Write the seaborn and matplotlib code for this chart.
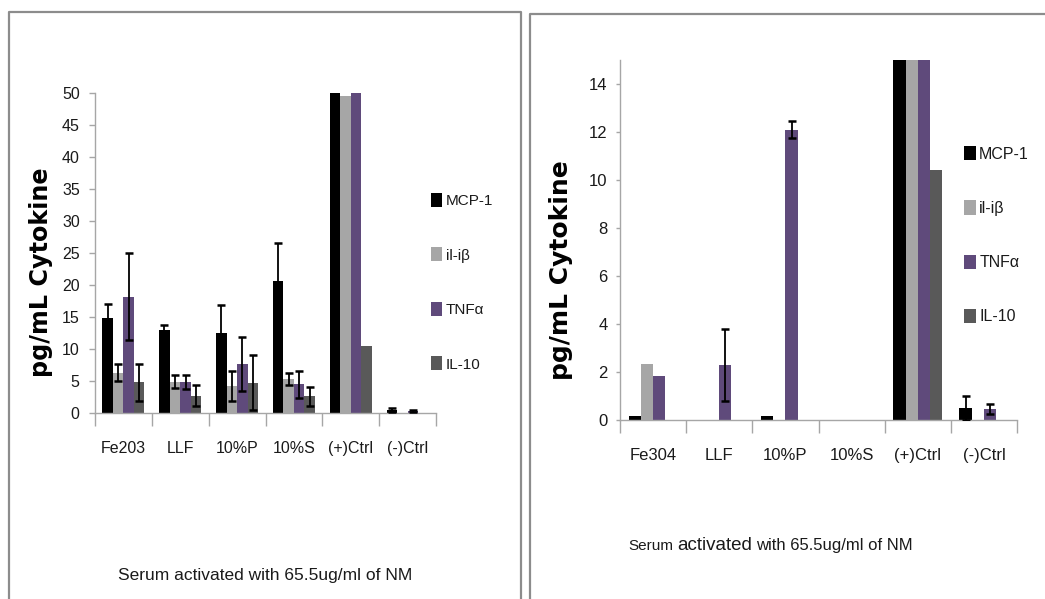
import numpy as np
import pandas as pd
import matplotlib
matplotlib.use("Agg")
import matplotlib.pyplot as plt
from matplotlib.patches import Patch
from matplotlib.lines import Line2D
import seaborn as sns

# ---- data -------------------------------------------------------------
cytokines = ["MCP-1", "il-iβ", "TNFα", "IL-10"]
colors = ["#000000", "#a6a6a6", "#5f4a7b", "#595959"]

samples_a = ["Fe203", "LLF", "10%P", "10%S", "(+)Ctrl", "(-)Ctrl"]
a_mcp1 = [14.8, 12.9, 12.5, 20.7, 50.0, 0.5]
a_il1b = [6.3, 4.9, 4.2, 5.3, 49.5, 0.0]
a_tnfa = [18.2, 4.9, 7.7, 4.5, 50.0, 0.3]
a_il10 = [4.8, 2.7, 4.7, 2.6, 10.4, 0.0]
a_mcp1_err = [2.3, 0.8, 4.3, 5.8, 0.0, 0.35]
a_il1b_err = [1.3, 1.0, 2.3, 1.0, 0.0, 0.0]
a_tnfa_err = [6.8, 1.1, 4.2, 2.1, 0.0, 0.1]
a_il10_err = [2.9, 1.6, 4.3, 1.5, 0.0, 0.0]

samples_b = ["Fe304", "LLF", "10%P", "10%S", "(+)Ctrl", "(-)Ctrl"]
b_mcp1 = [0.17, 0.0, 0.17, 0.0, 15.0, 0.5]
b_il1b = [2.35, 0.0, 0.0, 0.0, 15.0, 0.0]
b_tnfa = [1.85, 2.3, 12.1, 0.0, 15.0, 0.45]
b_il10 = [0.0, 0.0, 0.0, 0.0, 10.4, 0.0]
b_mcp1_err = [0.0, 0.0, 0.0, 0.0, 0.0, 0.48]
b_il1b_err = [0.0, 0.0, 0.0, 0.0, 0.0, 0.0]
b_tnfa_err = [0.0, 1.5, 0.37, 0.0, 0.0, 0.2]
b_il10_err = [0.0, 0.0, 0.0, 0.0, 0.0, 0.0]

y_label = "pg/mL Cytokine"
x_title = "Serum activated with 65.5ug/ml of NM"
x_title_parts = ["Serum", "activated", "with 65.5ug/ml of NM"]

# ---- style ------------------------------------------------------------
sns.set_theme(style="white")
plt.rcParams["font.family"] = ["Liberation Sans", "DejaVu Sans"]
TEXT = "#1a1a1a"

W, H = 1045, 599
fig = plt.figure(figsize=(W / 100, H / 100), dpi=100)
fig.patch.set_facecolor("white")


def px_axes(x0, y0, x1, y1):
    return fig.add_axes([x0 / W, 1 - y1 / H, (x1 - x0) / W, (y1 - y0) / H])


def frame_line(xs, ys):
    fig.add_artist(Line2D([x / W for x in xs], [1 - y / H for y in ys],
                          color="#8c8c8c", lw=1.6, transform=fig.transFigure))


def panel(ax, samples, series, errors, ymax, yticks, tick_fs, leg_xy, leg_fs,
          leg_spacing, ytick_len, ytick_pad):
    df = pd.DataFrame({
        "sample": np.tile(samples, len(cytokines)),
        "cytokine": np.repeat(cytokines, len(samples)),
        "value": np.concatenate(series),
    })
    sns.barplot(data=df, x="sample", y="value", hue="cytokine",
                order=samples, hue_order=cytokines, palette=colors,
                saturation=1, width=0.74, errorbar=None, legend=False, ax=ax)
    for cont, errs in zip(ax.containers, errors):
        for bar, e in zip(cont, errs):
            bar.set_edgecolor("none")
            if e > 0:
                ax.errorbar(bar.get_x() + bar.get_width() / 2, bar.get_height(),
                            yerr=e, fmt="none", ecolor="black", elinewidth=1.3,
                            capsize=3.0, capthick=1.8, zorder=5)
    ax.set_xlim(-0.5, len(samples) - 0.5)
    ax.set_ylim(0, ymax)
    ax.set_yticks(yticks)
    ax.set_xticks(range(len(samples)))
    ax.set_xticklabels(samples)
    ax.set_xticks(np.arange(-0.5, len(samples), 1.0), minor=True)
    ax.set_xlabel("")
    ax.set_ylabel("")
    for s in ("top", "right"):
        ax.spines[s].set_visible(False)
    for s in ("left", "bottom"):
        ax.spines[s].set_color("#a6a6a6")
        ax.spines[s].set_linewidth(1.0)
    ax.tick_params(axis="x", which="major", bottom=True, length=0, pad=20,
                   labelsize=tick_fs, colors=TEXT)
    ax.tick_params(axis="x", which="minor", bottom=True, length=9,
                   width=1.0, color="#a6a6a6")
    ax.tick_params(axis="y", left=True, length=ytick_len, width=1.0,
                   color="#a6a6a6", pad=ytick_pad, labelsize=tick_fs,
                   labelcolor=TEXT)
    handles = [Patch(facecolor=c, edgecolor="none") for c in colors]
    leg = ax.legend(handles, cytokines, loc="upper left",
                    bbox_to_anchor=(leg_xy[0] / W, 1 - leg_xy[1] / H),
                    bbox_transform=fig.transFigure, frameon=False,
                    handlelength=0.75, handleheight=1.0, handletextpad=0.2,
                    labelspacing=leg_spacing, fontsize=leg_fs,
                    borderaxespad=0, borderpad=0)
    for t in leg.get_texts():
        t.set_color(TEXT)


# ---- left panel -------------------------------------------------------
frame_line([9, 9, 521, 521], [602, 12, 12, 602])
ax1 = px_axes(95, 93, 436, 413)
panel(ax1, samples_a, [a_mcp1, a_il1b, a_tnfa, a_il10],
      [a_mcp1_err, a_il1b_err, a_tnfa_err, a_il10_err],
      50, np.arange(0, 51, 5), 11.5, (431, 193), 11, 2.58, 4, 7)
fig.text(41 / W, 1 - 272 / H, y_label, rotation=90, ha="center", va="center",
         family="DejaVu Sans", fontweight="bold", fontsize=17.2, color="#000000")
fig.text(265 / W, 1 - 580 / H, x_title, ha="center", va="baseline",
         fontsize=12.5, color=TEXT)

# ---- right panel ------------------------------------------------------
frame_line([530, 530, 1050], [602, 14, 14])
ax2 = px_axes(620, 60, 1017, 420)
panel(ax2, samples_b, [b_mcp1, b_il1b, b_tnfa, b_il10],
      [b_mcp1_err, b_il1b_err, b_tnfa_err, b_il10_err],
      15, np.arange(0, 15, 2), 12, (964, 146), 11.5, 2.42, 3, 6)
fig.text(561 / W, 1 - 270 / H, y_label, rotation=90, ha="center", va="center",
         family="DejaVu Sans", fontweight="bold", fontsize=18, color="#000000")

# caption with a larger middle word, laid out left to right
renderer = fig.canvas.get_renderer()
x_cur = 628
for part, fs in zip(x_title_parts, [11, 13.5, 12]):
    t = fig.text(x_cur / W, 1 - 550 / H, part, ha="left", va="baseline",
                 fontsize=fs, color=TEXT)
    bb = t.get_window_extent(renderer)
    x_cur = bb.x1 + 4

fig.savefig("out.png", dpi=100, facecolor="white")
